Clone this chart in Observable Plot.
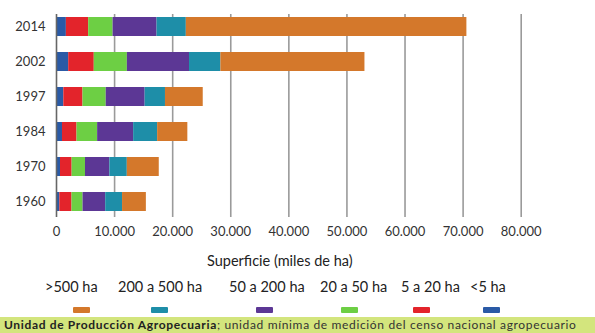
<!DOCTYPE html>
<html>
<head>
<meta charset="utf-8">
<script src="https://cdn.jsdelivr.net/npm/d3@7"></script>
<script src="https://cdn.jsdelivr.net/npm/@observablehq/plot@0.6"></script>
<style>
  html, body { margin: 0; padding: 0; background: #fff; }
  #wrap { position: relative; width: 595px; height: 333px; font-family: Lato, "Open Sans", sans-serif; color: #333; overflow: hidden; }
  #chart { position: absolute; left: 0; top: 0; }
  .abs { position: absolute; white-space: nowrap; }
  .lab { font-size: 14.5px; color: #222; line-height: 1; }
  .sw { position: absolute; width: 17px; height: 6px; border-radius: 1px; }
  #band { position: absolute; left: 0; top: 317px; width: 595px; height: 16px; background: #d3e57d; font-size: 12px; letter-spacing: 0.65px; line-height: 16px; color: #333; padding-left: 4px; box-sizing: border-box; white-space: nowrap; }
</style>
</head>
<body>
<div id="wrap">
  <div id="chart"></div>
  <div class="abs" id="xtitle" style="left:207px; top:252px; font-size:14.5px; color:#222;">Superficie (miles de ha)</div>
  <div id="legend"></div>
  <div id="band"><b style="color:#222">Unidad de Producción Agropecuaria</b>; unidad mínima de medición del censo nacional agropecuario</div>
</div>
<script>
const years = ["2014", "2002", "1997", "1984", "1970", "1960"];
const sizes = ["<5 ha", "5 a 20 ha", "20 a 50 ha", "50 a 200 ha", "200 a 500 ha", ">500 ha"];
const colors = ["#2a5aa6", "#e3242b", "#6dcf44", "#5c3795", "#1e8ea8", "#d4782b"];
// superficie (ha, axis shows miles de ha) per size class, by census year
const menos5     = [1700, 2100, 1260, 1030, 690, 570];
const de5a20     = [3840, 4400, 3300, 2500, 2000, 2100];
const de20a50    = [4200, 5700, 4000, 3550, 2300, 1900];
const de50a200   = [7570, 10700, 6700, 6200, 4200, 3900];
const de200a500  = [5040, 5400, 3500, 4130, 3000, 2900];
const mas500     = [48300, 24800, 6500, 5200, 5500, 4100];
const xTicks = [0, 10000, 20000, 30000, 40000, 50000, 60000, 70000, 80000];

const series = [menos5, de5a20, de20a50, de50a200, de200a500, mas500];
const data = [];
years.forEach((y, i) => {
  sizes.forEach((s, j) => data.push({year: y, size: s, value: series[j][i]}));
});

const fmt = d => d3.format(",")(d).replace(/,/g, ".");

const chart = Plot.plot({
  width: 595,
  height: 240,
  marginLeft: 56,
  marginRight: 74.3,
  marginTop: 9,
  marginBottom: 21,
  style: {fontFamily: "Lato, 'Open Sans', sans-serif", fontSize: "13px", color: "#333", background: "transparent"},
  x: {domain: [0, 80000], ticks: xTicks, tickFormat: fmt, tickSize: 0, tickPadding: 7, label: null},
  y: {domain: years, paddingInner: 0.457, paddingOuter: 0.2285, tickSize: 0, tickPadding: 11, label: null},
  color: {domain: sizes, range: colors},
  marks: [
    Plot.ruleX(xTicks.filter(d => d > 0), {x: d => d, stroke: "#9a9a9a", strokeWidth: 1.6, insetTop: 5, insetBottom: 2}),
    Plot.barX(data, {x: "value", y: "year", fill: "size", order: null}),
    Plot.ruleX([0], {stroke: "#666", strokeWidth: 1.6, insetTop: 5, insetBottom: 2})
  ]
});
document.getElementById("chart").appendChild(chart);

// legend (order as in reference)
const legendOrder = [">500 ha", "200 a 500 ha", "50 a 200 ha", "20 a 50 ha", "5 a 20 ha", "<5 ha"];
const labelLeft = [45, 118, 229, 320, 401, 470];
const swatchLeft = [73, 151, 256, 341, 413, 483];
const leg = document.getElementById("legend");
legendOrder.forEach((s, i) => {
  const t = document.createElement("div");
  t.className = "abs lab";
  t.style.left = labelLeft[i] + "px";
  t.style.top = "280px";
  t.textContent = s;
  leg.appendChild(t);
  const sw = document.createElement("div");
  sw.className = "sw";
  sw.style.left = swatchLeft[i] + "px";
  sw.style.top = "307px";
  sw.style.background = colors[sizes.indexOf(s)];
  leg.appendChild(sw);
});
</script>
</body>
</html>
